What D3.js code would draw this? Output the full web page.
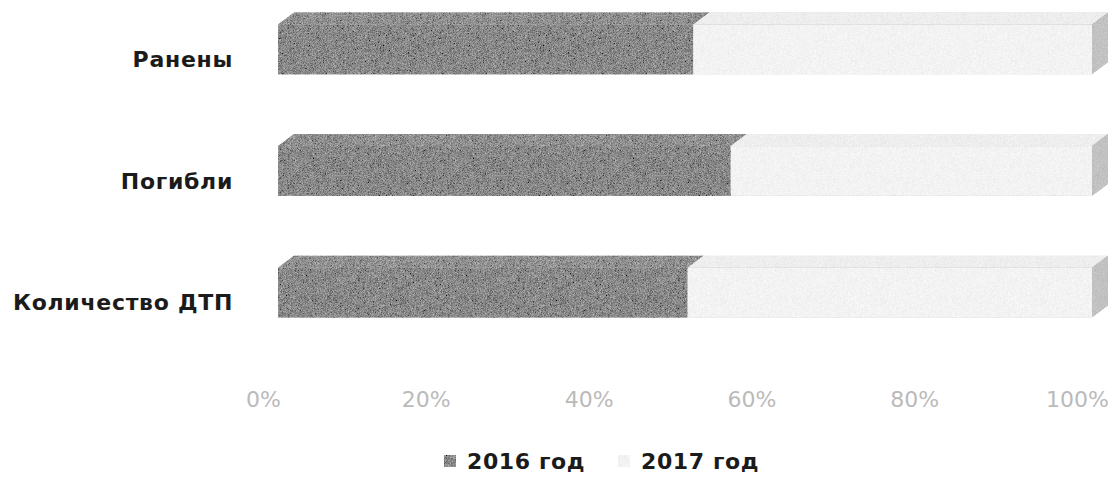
<!DOCTYPE html>
<html>
<head>
<meta charset="utf-8">
<script src="https://cdn.jsdelivr.net/npm/d3@7"></script>
<style>
  body { margin: 0; background: #fff; }
  svg { display: block; }
</style>
</head>
<body>
<script>
// data
const categories = ["Ранены", "Погибли", "Количество ДТП"];
const seriesNames = ["2016 год", "2017 год"];
const share2016 = [0.51, 0.556, 0.503];
const share2017 = [0.49, 0.444, 0.497];
const tickValues = [0, 0.2, 0.4, 0.6, 0.8, 1];

const W = 1113, H = 477;
const depth = {dx: 16, dy: -12};   // 3d offset
const barShift = 15;               // bars sit behind the axis labels

const svg = d3.select("body").append("svg")
    .attr("width", W)
    .attr("height", H);

// grain filter to mimic the scanned texture
const defs = svg.append("defs");
function grain(id, amp, freq) {
  const f = defs.append("filter").attr("id", id)
      .attr("x", 0).attr("y", 0).attr("width", 1).attr("height", 1);
  f.append("feTurbulence").attr("type", "fractalNoise")
      .attr("baseFrequency", freq).attr("numOctaves", 1).attr("seed", 3).attr("result", "n");
  f.append("feColorMatrix").attr("in", "n").attr("type", "matrix")
      .attr("values", "0.33 0.33 0.33 0 0  0.33 0.33 0.33 0 0  0.33 0.33 0.33 0 0  0 0 0 0 1")
      .attr("result", "g");
  f.append("feComposite").attr("in", "SourceGraphic").attr("in2", "g")
      .attr("operator", "arithmetic")
      .attr("k1", 0).attr("k2", 1).attr("k3", amp).attr("k4", -amp / 2)
      .attr("result", "m");
  f.append("feComposite").attr("in", "m").attr("in2", "SourceGraphic").attr("operator", "in");
}
grain("gDark", 1.2, 1.6);
grain("gLight", 0.45, 1.6);

const x = d3.scaleLinear().domain([0, 1]).range([263, 1077]);
const y = d3.scaleBand().domain(categories)
    .range([-12, 354]).paddingInner(0.59).paddingOuter(0.3);

const colors = [
  {front: "#8a8a8a", top: "#929292", side: "#777", filter: "url(#gDark)"},
  {front: "#f3f3f3", top: "#eeeeee", side: "#c2c2c2", filter: "url(#gLight)"}
];

// stack
const rows = categories.map((c, i) => ({cat: c, v0: share2016[i], v1: share2017[i]}));
const stacked = d3.stack().keys(["v0", "v1"])(rows);

stacked.forEach((layer, si) => {
  const g = svg.append("g").attr("filter", colors[si].filter);
  layer.forEach(d => {
    const x0 = x(d[0]) + barShift, x1 = x(d[1]) + barShift;
    const y0 = y(d.data.cat), h = y.bandwidth();
    // top face
    g.append("path")
      .attr("d", `M${x0},${y0}L${x0 + depth.dx},${y0 + depth.dy}L${x1 + depth.dx},${y0 + depth.dy}L${x1},${y0}Z`)
      .attr("fill", colors[si].top);
    // front face
    g.append("rect")
      .attr("x", x0).attr("y", y0)
      .attr("width", x1 - x0).attr("height", h)
      .attr("fill", colors[si].front);
    // right side, only visible on the last segment
    if (si === stacked.length - 1) {
      g.append("path")
        .attr("d", `M${x1},${y0}L${x1 + depth.dx},${y0 + depth.dy}L${x1 + depth.dx},${y0 + h + depth.dy}L${x1},${y0 + h}Z`)
        .attr("fill", colors[si].side);
    }
  });
});

// category labels
svg.append("g").selectAll("text")
  .data(categories)
  .enter().append("text")
    .attr("x", 233)
    .attr("y", d => y(d) + y.bandwidth() / 2 + 10)
    .attr("dy", "0.35em")
    .attr("text-anchor", "end")
    .attr("font-family", "DejaVu Sans")
    .attr("font-weight", "bold")
    .attr("font-size", "22px")
    .attr("letter-spacing", "0.7px")
    .attr("fill", "#1b1b1b")
    .text(d => d);

// x axis labels
const xAxis = svg.append("g")
    .attr("transform", "translate(0,399)")
    .call(d3.axisBottom(x).tickValues(tickValues).tickFormat(d3.format(".0%")).tickSize(0));
xAxis.select(".domain").remove();
xAxis.selectAll("text")
    .attr("y", 0)
    .attr("dy", "0.35em")
    .attr("font-family", "DejaVu Sans")
    .attr("font-size", "22px")
    .attr("fill", "#bababa");

// legend
const legend = svg.append("g");
const legendX = [444, 618];
seriesNames.forEach((name, i) => {
  legend.append("rect")
    .attr("x", legendX[i]).attr("y", 455)
    .attr("width", 12).attr("height", 12)
    .attr("fill", colors[i].front)
    .attr("filter", colors[i].filter);
  legend.append("text")
    .attr("x", legendX[i] + 23).attr("y", 469)
    .attr("font-family", "DejaVu Sans")
    .attr("font-weight", "bold")
    .attr("font-size", "22px")
    .attr("letter-spacing", "0.6px")
    .attr("fill", "#1b1b1b")
    .text(name);
});
</script>
</body>
</html>
